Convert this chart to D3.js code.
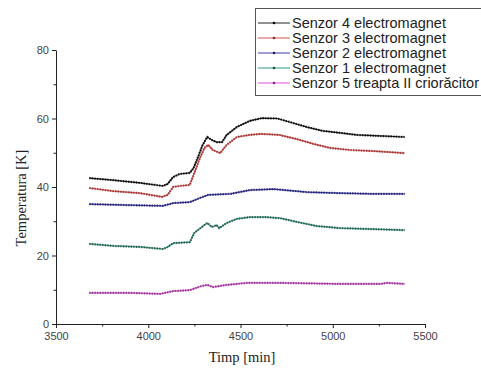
<!DOCTYPE html>
<html>
<head>
<meta charset="utf-8">
<script src="https://cdn.jsdelivr.net/npm/d3@7"></script>
<style>
  body { margin: 0; background: #fff; }
  svg { display: block; }
</style>
</head>
<body>
<div id="chart"></div>
<script>
// values: [timp, temperatura]
var senzor4 = [[3680,42.6],[3810,42.0],[3955,41.2],[4080,40.3],[4105,40.9],[4135,42.9],[4170,43.8],[4225,44.1],[4245,45.5],[4270,48.8],[4295,52.3],[4320,54.6],[4345,53.7],[4370,53.1],[4400,53.1],[4425,55.2],[4480,57.5],[4550,59.3],[4615,60.1],[4700,60.0],[4785,58.7],[4860,57.5],[4945,56.4],[5040,55.8],[5130,55.2],[5255,54.9],[5390,54.6]];
var senzor3 = [[3680,39.7],[3810,38.8],[3955,38.2],[4075,37.1],[4105,37.7],[4135,40.0],[4170,40.3],[4225,40.6],[4250,44.1],[4280,48.5],[4305,51.4],[4325,52.3],[4350,50.8],[4390,49.9],[4425,52.3],[4480,54.6],[4550,55.2],[4610,55.5],[4710,55.2],[4805,54.0],[4895,52.6],[4985,51.4],[5095,50.8],[5220,50.5],[5390,49.9]];
var senzor2 = [[3680,35.0],[3900,34.7],[4080,34.5],[4135,35.3],[4225,35.6],[4280,36.8],[4325,37.7],[4445,38.0],[4550,39.1],[4680,39.4],[4860,38.5],[5040,38.2],[5220,38.0],[5390,38.0]];
var senzor1 = [[3680,23.4],[3810,22.8],[3955,22.5],[4080,21.9],[4105,22.5],[4135,23.6],[4225,23.9],[4250,26.6],[4290,28.3],[4320,29.5],[4345,28.3],[4370,28.9],[4385,28.0],[4425,29.5],[4480,30.7],[4550,31.2],[4640,31.2],[4715,30.9],[4805,29.8],[4915,28.6],[5040,28.0],[5220,27.7],[5390,27.4]];
var senzor5 = [[3680,9.1],[3900,9.1],[4065,8.8],[4135,9.6],[4225,9.9],[4290,11.1],[4320,11.4],[4350,10.8],[4425,11.4],[4535,12.0],[4715,12.0],[5040,11.7],[5260,11.7],[5295,12.0],[5390,11.7]];

var seriesNames = ["Senzor 4 electromagnet", "Senzor 3 electromagnet", "Senzor 2 electromagnet", "Senzor 1 electromagnet", "Senzor 5 treapta II criorăcitor"];
var seriesData = [senzor4, senzor3, senzor2, senzor1, senzor5];
var lineColors = ["#222222", "#d9534f", "#3c3ca8", "#2f9a80", "#e050d8"];
var dotColors = ["#000000", "#8a2a2a", "#1a1a60", "#1e4a40", "#7a2a78"];

var xTicks = [3500, 4000, 4500, 5000, 5500];
var xMinor = [3750, 4250, 4750, 5250];
var yTicks = [0, 20, 40, 60, 80];
var yMinor = [10, 30, 50, 70];

var width = 481, height = 373;
var margin = {top: 50, right: 56, bottom: 49, left: 56};

var svg = d3.select("#chart")
    .append("svg")
    .attr("width", width)
    .attr("height", height);

var x = d3.scaleLinear()
    .domain([3500, 5500])
    .range([margin.left, width - margin.right]);

var y = d3.scaleLinear()
    .domain([0, 80])
    .range([height - margin.bottom, margin.top]);

var line = d3.line()
    .x(function(d) { return x(d[0]); })
    .y(function(d) { return y(d[1]); });

// series: thin coloured line with dense dark markers on top
seriesData.forEach(function(s, i) {
    svg.append("path")
        .attr("d", line(s))
        .attr("fill", "none")
        .attr("stroke", lineColors[i])
        .attr("stroke-width", 1.2);
    svg.append("path")
        .attr("d", line(s))
        .attr("fill", "none")
        .attr("stroke", dotColors[i])
        .attr("stroke-opacity", 0.8)
        .attr("stroke-width", 2.2)
        .attr("stroke-dasharray", "1.4,1.2");
});

// axes
var axisColor = "#222";
svg.append("g")
    .attr("transform", "translate(0," + y(0) + ")")
    .call(d3.axisBottom(x).tickValues(xTicks).tickFormat(d3.format("d")).tickSize(4).tickSizeOuter(0).tickPadding(4));
svg.append("g")
    .attr("transform", "translate(0," + y(0) + ")")
    .call(d3.axisBottom(x).tickValues(xMinor).tickSize(2.5).tickFormat("").tickSizeOuter(0))
    .select(".domain").remove();

svg.append("g")
    .attr("transform", "translate(" + x(3500) + ",0)")
    .call(d3.axisLeft(y).tickValues(yTicks).tickSize(4).tickSizeOuter(0).tickPadding(3));
svg.append("g")
    .attr("transform", "translate(" + x(3500) + ",0)")
    .call(d3.axisLeft(y).tickValues(yMinor).tickSize(2.5).tickFormat("").tickSizeOuter(0))
    .select(".domain").remove();

svg.selectAll(".domain, .tick line").attr("stroke", axisColor).attr("stroke-width", 1);
svg.selectAll(".tick text")
    .attr("font-family", "Liberation Sans, Arial, sans-serif")
    .attr("font-size", 11)
    .attr("fill", "#444");

// axis titles
svg.append("text")
    .attr("x", 242)
    .attr("y", 362)
    .attr("text-anchor", "middle")
    .attr("font-family", "Liberation Serif, Times New Roman, serif")
    .attr("font-size", 14.5)
    .attr("fill", "#222")
    .text("Timp [min]");

svg.append("text")
    .attr("transform", "translate(26,198) rotate(-90)")
    .attr("text-anchor", "middle")
    .attr("font-family", "Liberation Serif, Times New Roman, serif")
    .attr("font-size", 14.5)
    .attr("fill", "#222")
    .text("Temperatura [K]");

// legend
var legend = svg.append("g");
legend.append("rect")
    .attr("x", 255.5)
    .attr("y", 8.5)
    .attr("width", 240)
    .attr("height", 87)
    .attr("fill", "#fff")
    .attr("stroke", "#555")
    .attr("stroke-width", 1);

seriesNames.forEach(function(name, i) {
    var cy = 23 + i * 15;
    legend.append("line")
        .attr("x1", 258).attr("x2", 290)
        .attr("y1", cy).attr("y2", cy)
        .attr("stroke", lineColors[i])
        .attr("stroke-width", 1);
    legend.append("circle")
        .attr("cx", 274).attr("cy", cy)
        .attr("r", 1.3)
        .attr("fill", dotColors[i]);
    legend.append("text")
        .attr("x", 292)
        .attr("y", cy + 5)
        .attr("font-family", "Liberation Sans, Arial, sans-serif")
        .attr("font-size", 14.5)
        .attr("fill", "#222")
        .text(name);
});
</script>
</body>
</html>
